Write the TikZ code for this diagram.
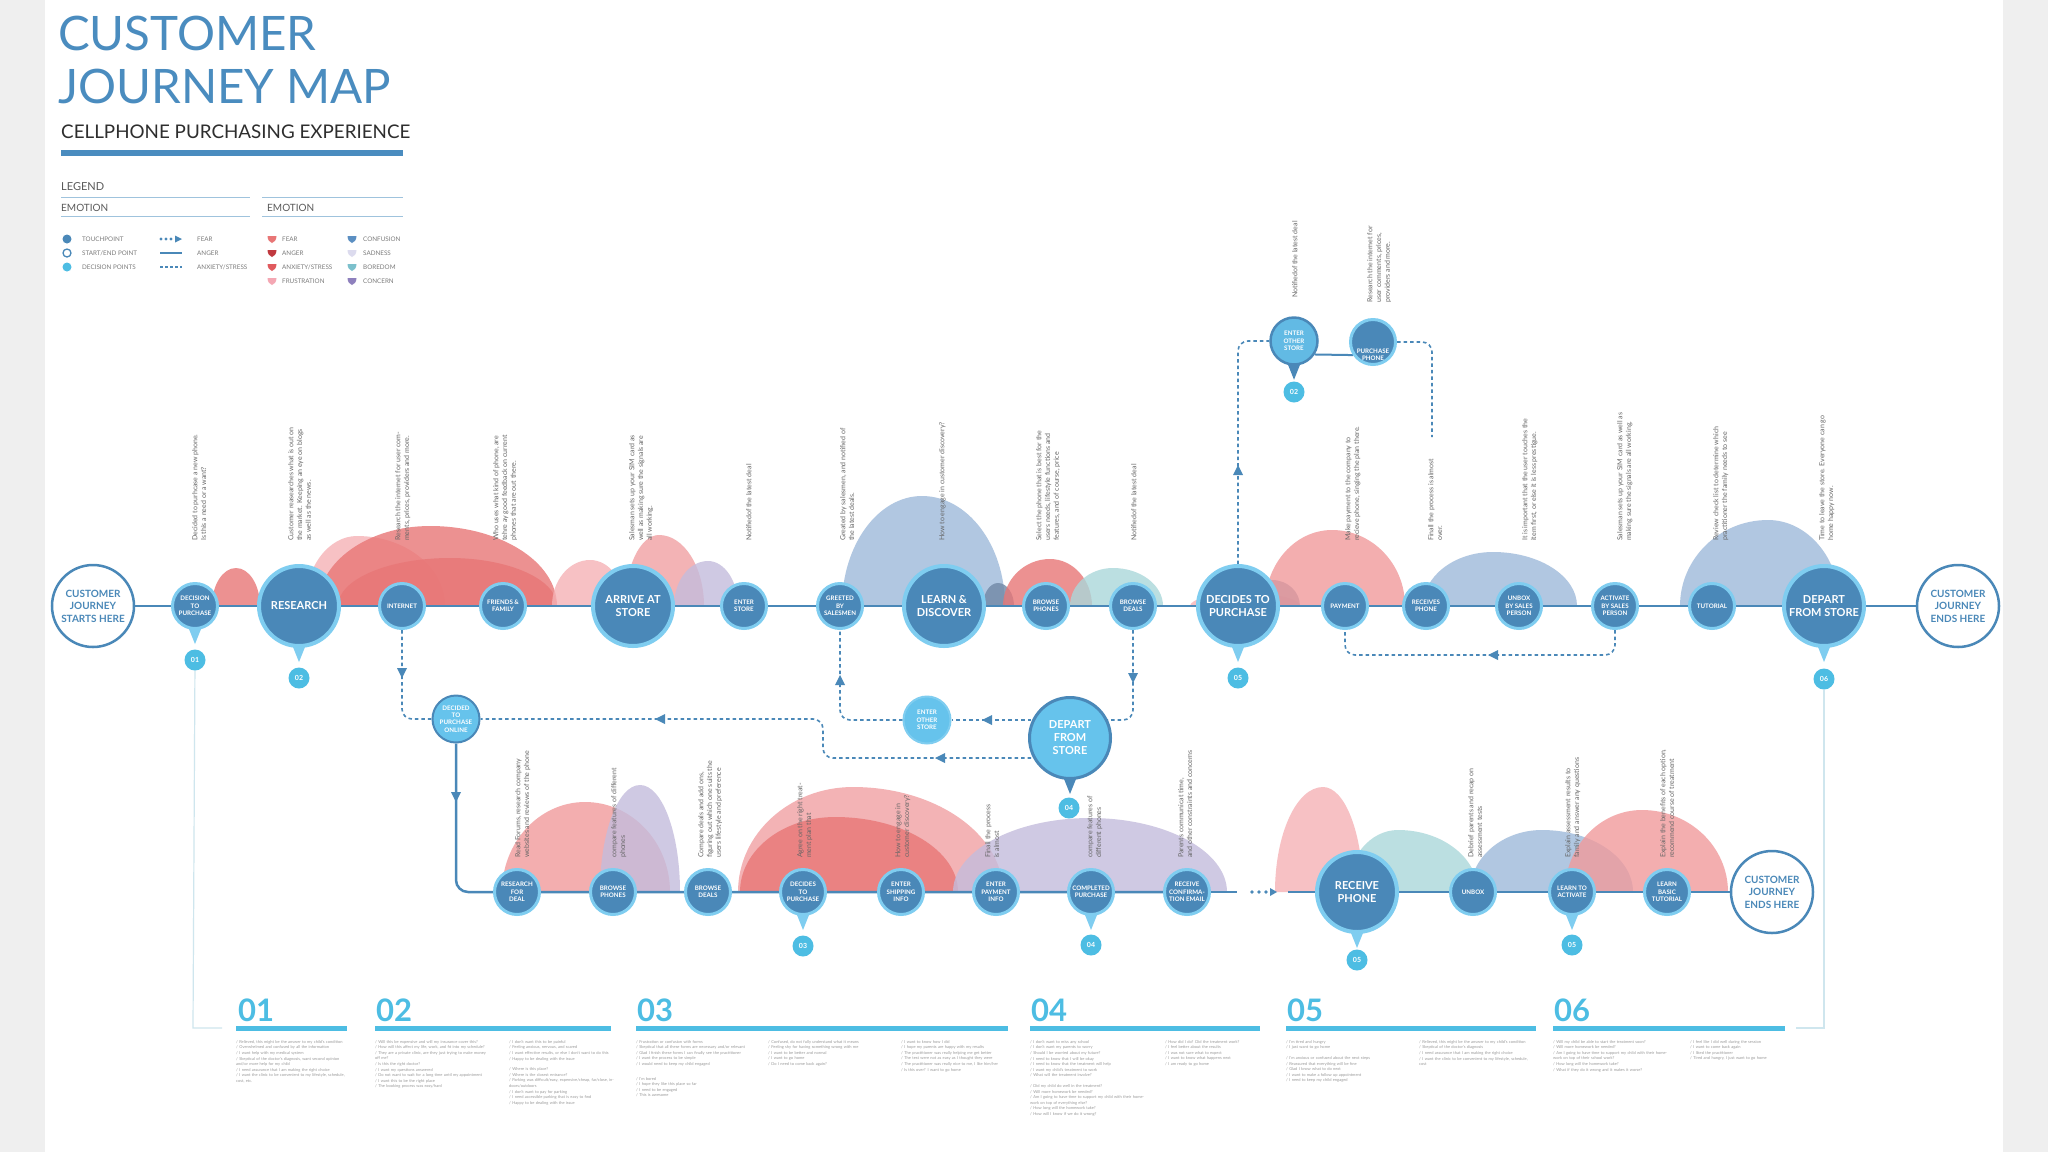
\documentclass[tikz,border=0pt]{standalone}
\usepackage{fontspec}
\setmainfont{Lato}
\usetikzlibrary{calc}
\pgfdeclarelayer{back}\pgfdeclarelayer{humps}\pgfdeclarelayer{bg}
\pgfsetlayers{back,humps,bg,main}
\definecolor{nodeblue}{HTML}{4A88B8}
\definecolor{ringblue}{HTML}{7FCDF0}
\definecolor{decblue}{HTML}{66C3EC}
\definecolor{badgecyan}{HTML}{4DBDE3}
\definecolor{titleblue}{HTML}{4A8CBF}
\definecolor{notegrey}{HTML}{666666}
\definecolor{leggrey}{HTML}{5A5A5A}
\definecolor{legline}{HTML}{9FC3DD}
\definecolor{pagegrey}{HTML}{EFEFEF}
\definecolor{framel}{HTML}{CFE6EE}
\definecolor{tinygrey}{HTML}{9A9A9A}
\definecolor{hred}{RGB}{232,118,118}
\definecolor{hpink}{RGB}{245,178,182}
\definecolor{hlav}{RGB}{196,188,220}
\definecolor{hblue}{RGB}{158,185,218}
\definecolor{hteal}{RGB}{170,216,218}
\definecolor{hdark}{RGB}{112,136,166}
\definecolor{eanger}{HTML}{C0393F}
\definecolor{eanx}{HTML}{E05A5E}
\definecolor{efrus}{HTML}{F4A7B3}
\definecolor{econf}{HTML}{5B8FC2}
\definecolor{esad}{HTML}{DCDBEE}
\definecolor{ebore}{HTML}{7CC0CC}
\definecolor{econc}{HTML}{8E80BD}
\newcommand\cjmS{\fontsize{6.2}{7.3}\selectfont\bfseries}
\newcommand\cjmB{\fontsize{11}{13}\selectfont\bfseries}
\newcommand\cjmE{\fontsize{10}{12.5}\selectfont\bfseries}
\newcommand\cjmN{\fontsize{7}{8.8}\selectfont}
\newcommand\cjmT{\fontsize{4}{5.6}\selectfont}
\newcommand\cjmL{\fontsize{6.3}{7}\selectfont}
\newcommand\hump[6]{%
 \fill[#1] (#2,#6) .. controls (#2,{#6-0.552*(#6-#5)}) and ({#3-0.552*(#3-#2)},#5) .. (#3,#5)
   .. controls ({#3+0.552*(#4-#3)},#5) and (#4,{#6-0.552*(#6-#5)}) .. (#4,#6) -- cycle;}
\newcommand\ptr[2]{\fill[#2] ($(#1.south)+(-8,-6)$) -- ($(#1.south)+(8,-6)$) -- ($(#1.south)+(0,14)$) -- cycle;}
\tikzset{
 tp/.style={circle,fill=nodeblue,draw=ringblue,line width=3pt,minimum size=45pt,inner sep=0pt,text=white,align=center,font=\cjmS},
 tpb/.style={tp,line width=4pt,minimum size=80pt,font=\cjmB},
 se/.style={circle,fill=white,draw=nodeblue,line width=2.5pt,minimum size=82pt,inner sep=0pt,text=nodeblue,align=center,font=\cjmE},
 dp/.style={circle,fill=decblue,draw=nodeblue,line width=2pt,minimum size=47pt,inner sep=0pt,text=white,align=center,font=\cjmS},
 badge/.style={circle,fill=badgecyan,minimum size=21pt,inner sep=0pt,text=white,font=\fontsize{7}{8}\selectfont\bfseries},
 note/.style={rotate=90,anchor=north west,align=left,inner sep=0pt,text=notegrey,font=\cjmN},
 mainline/.style={draw=nodeblue,line width=2.5pt},
 dline/.style={draw=nodeblue,line width=1.6pt,dash pattern=on 3.5pt off 3pt,rounded corners=10pt},
 legtxt/.style={anchor=base west,inner sep=0pt,text=leggrey!80,font=\cjmL},
 col/.style={anchor=north west,inner sep=0pt,text width=116pt,align=left,text=tinygrey,font=\cjmT},
 hnum/.style={anchor=base west,inner sep=0pt,text=badgecyan,font=\fontsize{31}{31}\selectfont\bfseries},
 hop/.style={opacity=0.8},
 arrL/.pic={\fill[nodeblue] (5,-5) -- (-5,0) -- (5,5) -- cycle;},
 arrD/.pic={\fill[nodeblue] (-5,-5) -- (0,5) -- (5,-5) -- cycle;},
 arrU/.pic={\fill[nodeblue] (-5,5) -- (0,-5) -- (5,5) -- cycle;},
 emo/.pic={\fill[#1] (-4.5,-3) -- (4.5,-3) .. controls (4.5,1) and (2,3.5) .. (0,4) .. controls (-2,3.5) and (-4.5,1) .. (-4.5,-3) -- cycle;},
}
\begin{document}
\begin{tikzpicture}[x=1pt,y=-1pt]
\useasboundingbox (0,0) rectangle (2048,1152);
\begin{pgfonlayer}{back}
\fill[pagegrey] (0,0) rectangle (2048,1152);
\fill[white] (45,0) rectangle (2003,1152);
\end{pgfonlayer}

% ---------- title and legend
\node[anchor=base west,inner sep=0pt,text=titleblue,font=\fontsize{47.5}{48}\selectfont] (t1) at (58,50) {CUSTOMER};
\node[anchor=base west,inner sep=0pt,text=titleblue,font=\fontsize{47.5}{48}\selectfont] (t2) at (58,103) {JOURNEY MAP};
\node[anchor=base west,inner sep=0pt,text=black!82,font=\fontsize{18.8}{19}\selectfont] (t3) at (61,138) {CELLPHONE PURCHASING EXPERIENCE};
\fill[titleblue] (61,150) rectangle (403,156);
\node[anchor=base west,inner sep=0pt,text=leggrey,font=\fontsize{11}{12}\selectfont] (lg) at (61,190) {LEGEND};
\draw[legline,line width=1pt] (61,197) -- (250,197) (262,197) -- (403,197) (61,216) -- (250,216) (262,216) -- (403,216);
\node[anchor=base west,inner sep=0pt,text=leggrey,font=\fontsize{10}{12}\selectfont] (em1) at (61,211) {EMOTION};
\node[anchor=base west,inner sep=0pt,text=leggrey,font=\fontsize{10}{12}\selectfont] (em2) at (267,211) {EMOTION};
\fill[nodeblue] (67,239) circle (4.5);
\draw[nodeblue,line width=1.3pt] (67,253) circle (4);
\fill[badgecyan] (67,267) circle (4.5);
\node[legtxt] (l1) at (82,241.3) {TOUCHPOINT};
\node[legtxt] (l2) at (82,255.3) {START/END POINT};
\node[legtxt] (l3) at (82,269.3) {DECISION POINTS};
\fill[nodeblue] (161,239) circle (1.6) (166,239) circle (1.6) (171,239) circle (1.6);
\fill[nodeblue] (175,235.5) -- (182,239) -- (175,242.5) -- cycle;
\draw[nodeblue,line width=1.8pt] (160,253) -- (182,253);
\draw[nodeblue,line width=1.3pt,dash pattern=on 2.5pt off 2.5pt] (160,267) -- (182,267);
\node[legtxt] (l4) at (197,241.3) {FEAR};
\node[legtxt] (l5) at (197,255.3) {ANGER};
\node[legtxt] (l6) at (197,269.3) {ANXIETY/STRESS};
\pic at (272,239) {emo=hred};
\pic at (272,253) {emo=eanger};
\pic at (272,267) {emo=eanx};
\pic at (272,281) {emo=efrus};
\node[legtxt] (l7) at (282,241.3) {FEAR};
\node[legtxt] (l8) at (282,255.3) {ANGER};
\node[legtxt] (l9) at (282,269.3) {ANXIETY/STRESS};
\node[legtxt] (l10) at (282,283.3) {FRUSTRATION};
\pic at (352,239) {emo=econf};
\pic at (352,253) {emo=esad};
\pic at (352,267) {emo=ebore};
\pic at (352,281) {emo=econc};
\node[legtxt] (l11) at (363,241.3) {CONFUSION};
\node[legtxt] (l12) at (363,255.3) {SADNESS};
\node[legtxt] (l13) at (363,269.3) {BOREDOM};
\node[legtxt] (l14) at (363,283.3) {CONCERN};

% ---------- emotion humps
\begin{pgfonlayer}{humps}
\begin{scope}[hop]
\hump{hred}{212}{236}{260}{568}{606}
\hump{hpink}{305}{357}{445}{536}{606}
\hump{hred}{318}{430}{557}{526}{606}
\hump{hred}{338}{450}{557}{558}{606}
\hump{hpink}{552}{590}{625}{560}{606}
\hump{hpink!70!hred}{625}{659}{704}{535}{606}
\hump{hlav}{674}{708}{738}{561}{606}
\hump{hblue}{842}{922}{1005}{496}{606}
\hump{hdark}{983}{998}{1014}{583}{606}
\hump{hred}{1003}{1050}{1092}{559}{606}
\hump{hteal}{1070}{1113}{1163}{568}{606}
\hump{hpink}{1190}{1245}{1300}{593}{606}
\hump{hdark}{1240}{1272}{1300}{580}{606}
\hump{hpink!60!hred}{1265}{1332}{1405}{530}{606}
\hump{hblue}{1423}{1493}{1577}{552}{606}
\hump{hblue}{1680}{1768}{1840}{520}{606}
\hump{hpink!60!hred}{502}{585}{670}{802}{892}
\hump{hlav}{600}{640}{680}{785}{892}
\hump{hpink!70!hred}{738}{853}{1003}{787}{892}
\hump{hred}{740}{835}{958}{817}{892}
\hump{hlav}{953}{1090}{1227}{818}{892}
\hump{hpink}{1275}{1323}{1363}{787}{892}
\hump{hteal}{1347}{1398}{1478}{830}{892}
\hump{hblue}{1470}{1542}{1633}{830}{892}
\hump{hpink!60!hred}{1565}{1642}{1728}{810}{892}
\end{scope}
\end{pgfonlayer}

% ---------- top row nodes
\node[se] (start) at (93,606) {CUSTOMER\\JOURNEY\\STARTS HERE};
\node[tp] (d2p) at (195,606) {DECISION\\TO\\PURCHASE};
\node[tpb] (res) at (299,606) {RESEARCH};
\node[tp] (inet) at (402,606) {INTERNET};
\node[tp] (fam) at (503,606) {FRIENDS \&\\FAMILY};
\node[tpb] (arr) at (633,606) {ARRIVE AT\\STORE};
\node[tp] (ent) at (744,606) {ENTER\\STORE};
\node[tp] (grt) at (840,606) {GREETED\\BY\\SALESMEN};
\node[tpb] (lrn) at (944,606) {LEARN \&\\DISCOVER};
\node[tp] (bph) at (1046,606) {BROWSE\\PHONES};
\node[tp] (bdl) at (1133,606) {BROWSE\\DEALS};
\node[tpb] (dec) at (1238,606) {DECIDES TO\\PURCHASE};
\node[tp] (pay) at (1345,606) {PAYMENT};
\node[tp] (rcv) at (1426,606) {RECEIVES\\PHONE};
\node[tp] (unb) at (1519,606) {UNBOX\\BY SALES\\PERSON};
\node[tp] (act) at (1615,606) {ACTIVATE\\BY SALES\\PERSON};
\node[tp] (tut) at (1712,606) {TUTORIAL};
\node[tpb] (dep) at (1824,606) {DEPART\\FROM STORE};
\node[se] (endA) at (1958,606) {CUSTOMER\\JOURNEY\\ENDS HERE};

% ---------- upper branch
\node[dp,fill=decblue!85!nodeblue,line width=2.5pt] (eot) at (1294,341) {ENTER\\OTHER\\STORE};
\node[tp] (pph) at (1373,342) {};
\node[inner sep=0pt,text=white,align=center,font=\cjmS] (pphl) at (1373,355) {PURCHASE\\PHONE};
\coordinate (fend) at (1432,437);

% ---------- middle decision points
\node[dp] (don) at (456,719) {DECIDED\\TO\\PURCHASE\\ONLINE};
\node[dp,draw=ringblue] (eosm) at (927,720) {ENTER\\OTHER\\STORE};
\node[dp,line width=3pt,minimum size=81pt,font=\cjmB] (dpm) at (1070,738) {DEPART\\FROM\\STORE};

% ---------- bottom row nodes
\node[tp] (rfd) at (517,892) {RESEARCH\\FOR\\DEAL};
\node[tp] (bph2) at (613,892) {BROWSE\\PHONES};
\node[tp] (bdl2) at (708,892) {BROWSE\\DEALS};
\node[tp] (dtp2) at (803,892) {DECIDES\\TO\\PURCHASE};
\node[tp] (esi) at (901,892) {ENTER\\SHIPPING\\INFO};
\node[tp] (epi) at (996,892) {ENTER\\PAYMENT\\INFO};
\node[tp] (cmp) at (1091,892) {COMPLETED\\PURCHASE};
\node[tp] (rce) at (1187,892) {RECEIVE\\CONFIRMA-\\TION EMAIL};
\node[tpb] (rph) at (1357,892) {RECEIVE\\PHONE};
\node[tp] (unb2) at (1473,892) {UNBOX};
\node[tp] (lta) at (1572,892) {LEARN TO\\ACTIVATE};
\node[tp] (lbt) at (1667,892) {LEARN\\BASIC\\TUTORIAL};
\node[se] (endB) at (1772,892) {CUSTOMER\\JOURNEY\\ENDS HERE};
\coordinate (g1) at (1237,892);
\coordinate (g2) at (1288,892);

% ---------- badges
\node[badge] (b1) at (195,660) {01};
\node[badge] (b2) at (299,678) {02};
\node[badge] (b3) at (1238,678) {05};
\node[badge] (b4) at (1824,679) {06};
\node[badge] (b5) at (1294,392) {02};
\node[badge] (b6) at (1069,808) {04};
\node[badge] (b7) at (803,946) {03};
\node[badge] (b8) at (1091,945) {04};
\node[badge] (b9) at (1357,960) {05};
\node[badge] (b10) at (1572,945) {05};

% ---------- connectors (behind nodes)
\begin{pgfonlayer}{bg}
\ptr{d2p}{ringblue}
\ptr{res}{ringblue}
\ptr{dec}{ringblue}
\ptr{dep}{ringblue}
\ptr{eot}{nodeblue}
\ptr{dpm}{nodeblue}
\ptr{dtp2}{ringblue}
\ptr{cmp}{ringblue}
\ptr{rph}{ringblue}
\ptr{lta}{ringblue}
\draw[mainline] (start) -- (endA);
\draw[mainline,rounded corners=12pt] (don) |- (rce);
\draw[mainline] (rce) -- (g1);
\draw[mainline] (g2) -- (endB);
\draw[nodeblue,line width=2pt] (eot.-33) -- (pph.-147);
\draw[dline] (inet) |- (don);
\draw[dline] ([yshift=-20pt]dpm.center) -- (823,758) -- (823,719) -- (don);
\draw[dline] ([yshift=18pt]dpm.center) -- (eosm);
\draw[dline] (eosm) -| (grt);
\draw[dline] (bdl) |- ([yshift=18pt]dpm.center);
\draw[dline] (dec) |- (eot);
\draw[dline] (pph) -| (fend);
\draw[dline] (act) -- (1615,655) -| (pay);
\draw[framel,line width=1.2pt] (b1) -- (193,1028) -- (222,1028);
\draw[framel,line width=1.2pt] (b4) -- (1824,1028) -- (1796,1028);
\end{pgfonlayer}
\pic at (402,673) {arrD};
\pic at (660,719) {arrL};
\pic at (940,758) {arrL};
\pic at (987,720) {arrL};
\pic at (840,680) {arrU};
\pic at (1133,678) {arrD};
\pic at (1238,470) {arrU};
\pic at (1493,655) {arrL};
\pic at (456,797) {arrD};
\fill[nodeblue] (1252,892) circle (1.9) (1259,892) circle (1.9) (1266,892) circle (1.9);
\fill[nodeblue] (1270,888) -- (1277,892) -- (1270,896) -- cycle;

% ---------- rotated notes, top row
\node[note] (n1) at (192,541) {Decided to purhcase a new phone.\\Is this a need or a want?};
\node[note] (n2) at (288,541) {Customer reasearches what is out on\\the market. Keeping an eye on blogs\\as well as the news.};
\node[note] (n3) at (395,541) {Research the internet for user com-\\ments, prices, providers and more.};
\node[note] (n4) at (493,541) {Who uses what kind of phone, are\\tehre ay good feedback on current\\phones that are out there.};
\node[note] (n5) at (629,541) {Salesman sets up your SIM card as\\well as making sure the signals are\\all working.};
\node[note] (n6) at (746,541) {Notifiedof the latest deal};
\node[note] (n7) at (840,541) {Greated by salesmen, and notified of\\the latest deals.};
\node[note] (n8) at (939,541) {How to engage in customer discovery?};
\node[note] (n9) at (1036,541) {Select the phone that is best for the\\users needs, lifestyle functions and\\features, and of course, price};
\node[note] (n10) at (1131,541) {Notifiedof the latest deal};
\node[note] (n11) at (1345,541) {Make payment to the company to\\recieve phone, singing the plan there.};
\node[note] (n12) at (1428,541) {Finall the process is almost\\over.};
\node[note] (n13) at (1522,541) {It is important that the user touches the\\item first, or else it is less prestigue.};
\node[note] (n14) at (1617,541) {Salesman sets up your SIM card as well as\\making sure the signals are all working.};
\node[note] (n15) at (1713,541) {Review check list to determine which\\practitioner the family needs to see};
\node[note] (n16) at (1819,541) {Time to leave the store. Everyone can go\\home happy now.};
\node[note] (n17) at (1292,298) {Notifiedof the latest deal};
\node[note] (n18) at (1367,303) {Research the internet for\\user comments, prices,\\providers and more.};
% ---------- rotated notes, bottom row
\node[note] (m1) at (515,858) {Read Forums, research company\\websites and reviews of the phone};
\node[note] (m2) at (611,858) {compare features of different\\phones};
\node[note] (m3) at (698,858) {Compare deals and add ons,\\figuring out which one suits the\\users lifestyle and preference};
\node[note] (m4) at (797,858) {Agree on the right treat-\\ment plan that};
\node[note] (m5) at (895,858) {How to engage in\\customer discovery?};
\node[note] (m6) at (985,858) {Finall the process\\is almost};
\node[note] (m7) at (1087,858) {compare features of\\different phones};
\node[note] (m8) at (1178,858) {Parents communicat time,\\and other constraints and concerns};
\node[note] (m9) at (1468,858) {Debrief parents and recap on\\assessment tests};
\node[note] (m10) at (1565,858) {Explain assessment results to\\family and answer any questions};
\node[note] (m11) at (1660,858) {Explain the benefits of each option,\\recommend course of treatment};

% ---------- bottom stages
\node[hnum] (h1) at (238,1021) {01};
\node[hnum] (h2) at (376,1021) {02};
\node[hnum] (h3) at (637,1021) {03};
\node[hnum] (h4) at (1031,1021) {04};
\node[hnum] (h5) at (1287,1021) {05};
\node[hnum] (h6) at (1554,1021) {06};
\fill[badgecyan] (236,1026) rectangle (347,1031);
\fill[badgecyan] (375,1026) rectangle (611,1031);
\fill[badgecyan] (636,1026) rectangle (1008,1031);
\fill[badgecyan] (1030,1026) rectangle (1260,1031);
\fill[badgecyan] (1286,1026) rectangle (1536,1031);
\fill[badgecyan] (1553,1026) rectangle (1785,1031);
\node[col] (c1) at (236,1040) {/ Relieved, this might be the answer to my child's condition\\/ Overwhelmed and confused by all the information\\/ I want help with my medical system\\/ Skeptical of the doctor's diagnosis, want second opinion and/or more help for my child\\/ I need assurance that I am making the right choice\\/ I want the clinic to be convenient to my lifestyle, schedule, cost, etc.};
\node[col] (c2) at (375,1040) {/ Will this be expensive and will my insurance cover this?\\/ How will this affect my life, work, and fit into my schedule?\\/ They are a private clinic, are they just trying to make money off me?\\/ Is this the right doctor?\\/ I want my questions answered\\/ Do not want to wait for a long time until my appointment\\/ I want this to be the right place\\/ The booking process was easy/hard};
\node[col] (c3) at (509,1040) {/ I don't want this to be painful\\/ Feeling anxious, nervous, and scared\\/ I want effective results, or else I don't want to do this\\/ Happy to be dealing with the issue\\[5pt]/ Where is this place?\\/ Where is the closest entrance?\\/ Parking was difficult/easy, expensive/cheap, far/close, indoors/outdoors\\/ I don't want to pay for parking\\/ I need accessible parking that is easy to find\\/ Happy to be dealing with the issue};
\node[col] (c4) at (636,1040) {/ Frustration or confusion with forms\\/ Skeptical that all these forms are necessary and/or relevant\\/ Glad I finish these forms I can finally see the practitioner\\/ I want the process to be simple\\/ I would need to keep my child engaged\\[9pt]/ I'm bored\\/ I hope they like this place so far\\/ I need to be engaged\\/ This is awesome};
\node[col] (c5) at (768,1040) {/ Confused, do not fully understand what it means\\/ Feeling shy for having something wrong with me\\/ I want to be better and normal\\/ I want to go home\\/ Do I need to come back again?};
\node[col] (c6) at (901,1040) {/ I want to know how I did\\/ I hope my parents are happy with my results\\/ The practitioner was really helping me get better\\/ The test were not as easy as I thought they were\\/ The practitioner was really nice to me, I like him/her\\/ Is this over? I want to go home};
\node[col] (c7) at (1030,1040) {/ I don't want to miss any school\\/ I don't want my parents to worry\\/ Should I be worried about my future?\\/ I need to know that I will be okay\\/ I need to know that the treatment will help\\/ I want my child's treatment to work\\/ What will the treatment involve?\\[5pt]/ Did my child do well in the treatment?\\/ Will more homework be needed?\\/ Am I going to have time to support my child with their homework on top of everything else?\\/ How long will the homework take?\\/ How will I know if we do it wrong?};
\node[col] (c8) at (1165,1040) {/ How did I do? Did the treatment work?\\/ I feel better about the results\\/ I was not sure what to expect\\/ I want to know what happens next\\/ I am ready to go home};
\node[col] (c9) at (1286,1040) {/ I'm tired and hungry\\/ I just want to go home\\[5pt]/ I'm anxious or confused about the next steps\\/ Reassured that everything will be fine\\/ Glad I know what to do next\\/ I want to make a follow up appointment\\/ I need to keep my child engaged};
\node[col] (c10) at (1419,1040) {/ Relieved, this might be the answer to my child's condition\\/ Skeptical of the doctor's diagnosis\\/ I need assurance that I am making the right choice\\/ I want the clinic to be convenient to my lifestyle, schedule, cost};
\node[col] (c11) at (1553,1040) {/ Will my child be able to start the treatment soon?\\/ Will more homework be needed?\\/ Am I going to have time to support my child with their homework on top of their school work?\\/ How long will the homework take?\\/ What if they do it wrong and it makes it worse?};
\node[col] (c12) at (1690,1040) {/ I feel like I did well during the session\\/ I want to come back again\\/ I liked the practitioner\\/ Tired and hungry, I just want to go home};
\end{tikzpicture}
\end{document}
